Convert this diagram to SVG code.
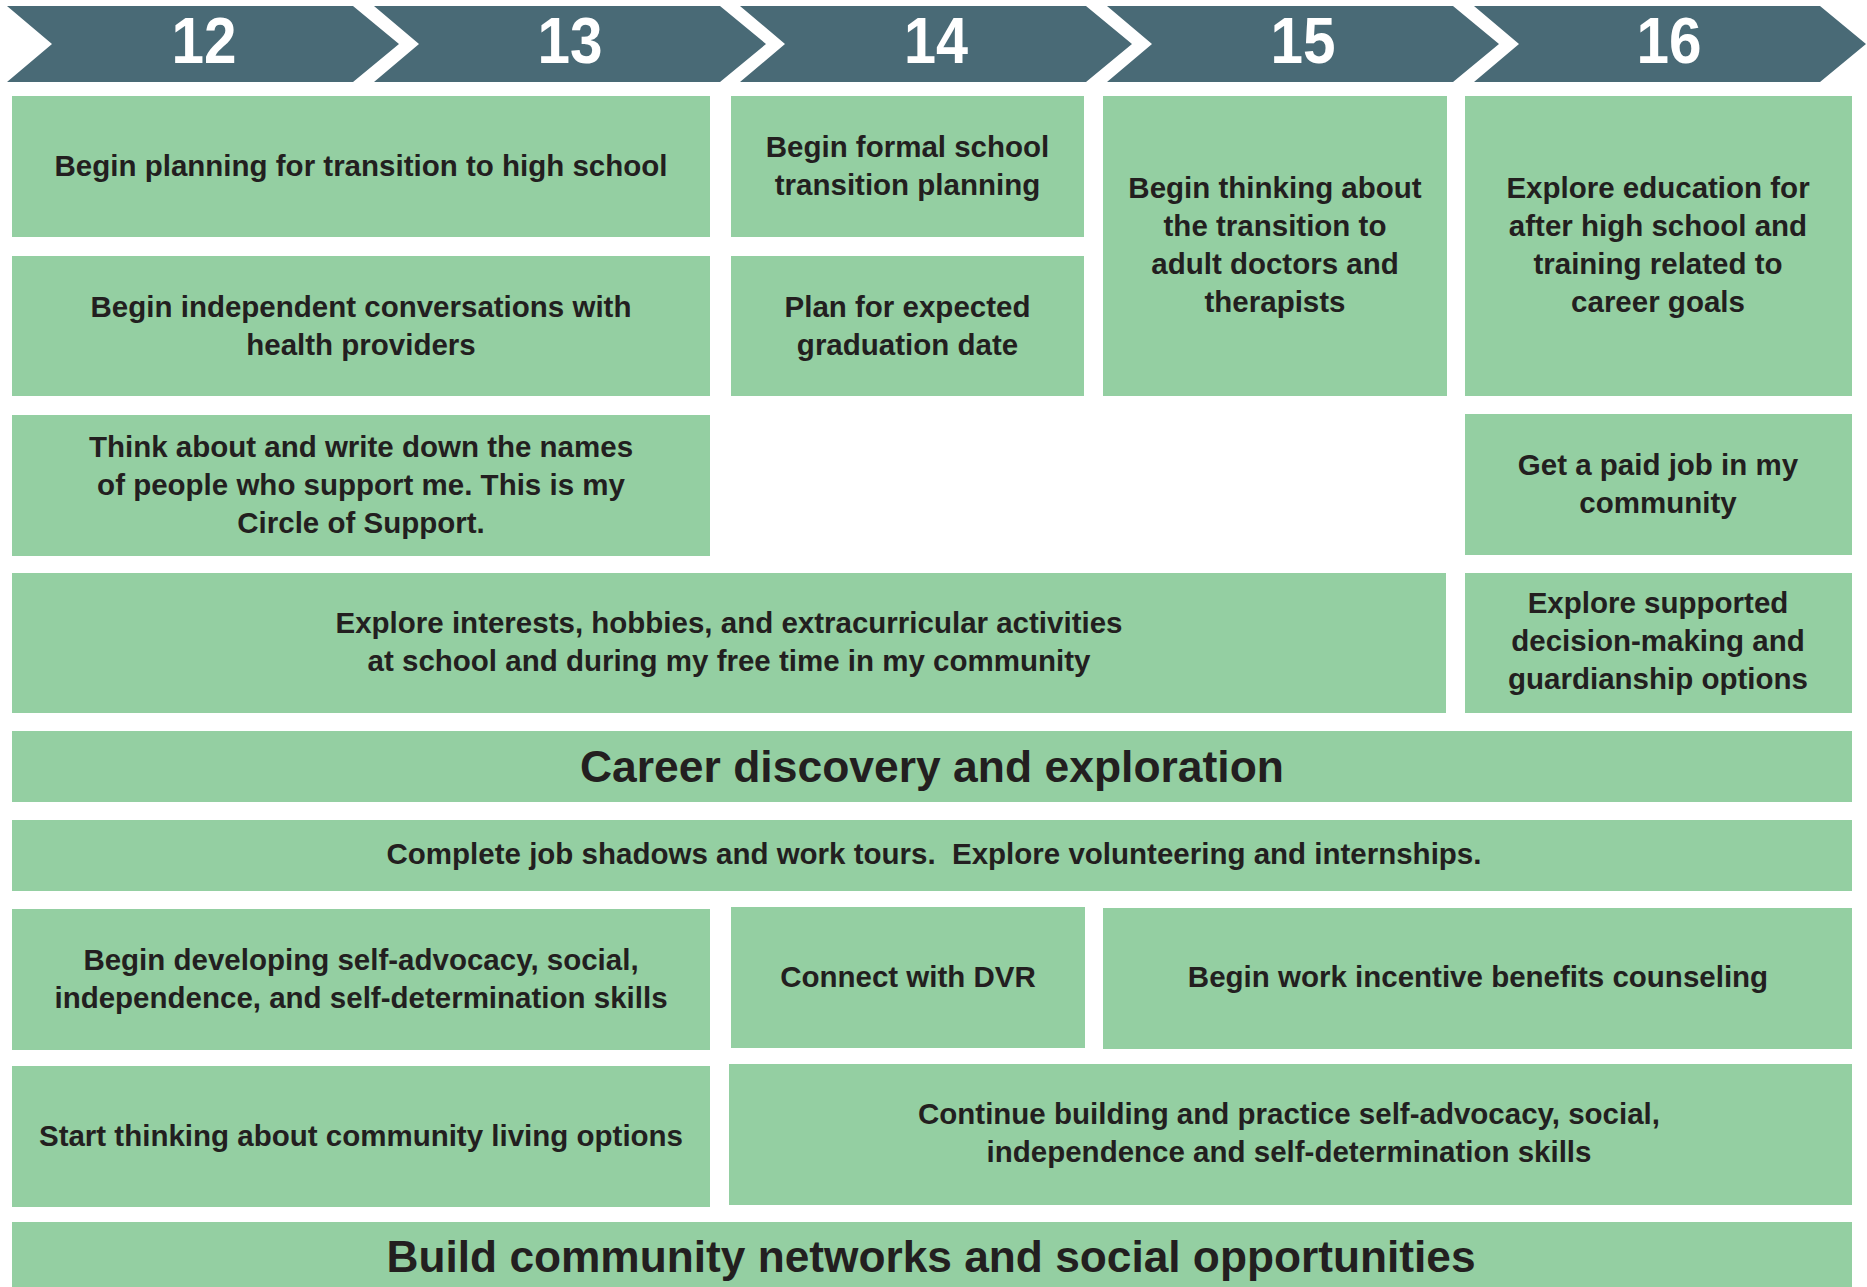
<svg xmlns="http://www.w3.org/2000/svg" width="1867" height="1287" viewBox="0 0 1867 1287">
<style>
  .chev { fill: #496A76; }
  .num { fill: #FFFFFF; font-family: "Liberation Sans", Arial, sans-serif; font-weight: bold; font-size: 64px; text-anchor: middle; }
  .box { fill: #94CFA2; }
  .t { fill: #231F20; font-family: "Liberation Sans", Arial, sans-serif; font-weight: bold; font-size: 29.5px; text-anchor: middle; }
  .big { fill: #231F20; font-family: "Liberation Sans", Arial, sans-serif; font-weight: bold; font-size: 45px; text-anchor: middle; }
</style>
<rect width="1867" height="1287" fill="#FFFFFF"/>

<g id="header">
  <g id="age-12">
    <polygon class="chev" points="7,6 353,6 399,44 353,82 7,82 52,44"/>
    <text class="num" x="204" y="63" textLength="65" lengthAdjust="spacingAndGlyphs">12</text>
  </g>
  <g id="age-13">
    <polygon class="chev" points="374,6 720,6 766,44 720,82 374,82 419,44"/>
    <text class="num" x="570" y="63" textLength="65" lengthAdjust="spacingAndGlyphs">13</text>
  </g>
  <g id="age-14">
    <polygon class="chev" points="740,6 1086,6 1132,44 1086,82 740,82 785,44"/>
    <text class="num" x="936" y="63" textLength="64" lengthAdjust="spacingAndGlyphs">14</text>
  </g>
  <g id="age-15">
    <polygon class="chev" points="1107,6 1453,6 1499,44 1453,82 1107,82 1152,44"/>
    <text class="num" x="1303" y="63" textLength="65" lengthAdjust="spacingAndGlyphs">15</text>
  </g>
  <g id="age-16">
    <polygon class="chev" points="1474,6 1820,6 1866,44 1820,82 1474,82 1519,44"/>
    <text class="num" x="1669" y="63" textLength="65" lengthAdjust="spacingAndGlyphs">16</text>
  </g>
</g>

<g id="connectors"></g>

<g id="n-planning-high-school">
  <rect class="box" x="12" y="96" width="698" height="141"/>
  <text class="t" x="361" y="176">Begin planning for transition to high school</text>
</g>
<g id="n-formal-transition">
  <rect class="box" x="731" y="96" width="353" height="141"/>
  <text class="t" x="907.5" y="157">Begin formal school</text>
  <text class="t" x="907.5" y="195">transition planning</text>
</g>
<g id="n-adult-doctors">
  <rect class="box" x="1103" y="96" width="344" height="300"/>
  <text class="t" x="1275" y="198">Begin thinking about</text>
  <text class="t" x="1275" y="236">the transition to</text>
  <text class="t" x="1275" y="274">adult doctors and</text>
  <text class="t" x="1275" y="312">therapists</text>
</g>
<g id="n-explore-education">
  <rect class="box" x="1465" y="96" width="387" height="300"/>
  <text class="t" x="1658" y="198">Explore education for</text>
  <text class="t" x="1658" y="236">after high school and</text>
  <text class="t" x="1658" y="274">training related to</text>
  <text class="t" x="1658" y="312">career goals</text>
</g>
<g id="n-health-providers">
  <rect class="box" x="12" y="256" width="698" height="140"/>
  <text class="t" x="361" y="316.5">Begin independent conversations with</text>
  <text class="t" x="361" y="354.5">health providers</text>
</g>
<g id="n-graduation-date">
  <rect class="box" x="731" y="256" width="353" height="140"/>
  <text class="t" x="907.5" y="316.5">Plan for expected</text>
  <text class="t" x="907.5" y="354.5">graduation date</text>
</g>
<g id="n-circle-of-support">
  <rect class="box" x="12" y="415" width="698" height="141"/>
  <text class="t" x="361" y="457">Think about and write down the names</text>
  <text class="t" x="361" y="495">of people who support me. This is my</text>
  <text class="t" x="361" y="533">Circle of Support.</text>
</g>
<g id="n-paid-job">
  <rect class="box" x="1465" y="414" width="387" height="141"/>
  <text class="t" x="1658" y="475">Get a paid job in my</text>
  <text class="t" x="1658" y="513">community</text>
</g>
<g id="n-interests-hobbies">
  <rect class="box" x="12" y="573" width="1434" height="140"/>
  <text class="t" x="729" y="633">Explore interests, hobbies, and extracurricular activities</text>
  <text class="t" x="729" y="671">at school and during my free time in my community</text>
</g>
<g id="n-supported-decision">
  <rect class="box" x="1465" y="573" width="387" height="140"/>
  <text class="t" x="1658" y="613">Explore supported</text>
  <text class="t" x="1658" y="651">decision-making and</text>
  <text class="t" x="1658" y="689">guardianship options</text>
</g>
<g id="n-career-discovery">
  <rect class="box" x="12" y="731" width="1840" height="71"/>
  <text class="big" x="932" y="782" textLength="704" lengthAdjust="spacingAndGlyphs">Career discovery and exploration</text>
</g>
<g id="n-job-shadows">
  <rect class="box" x="12" y="820" width="1840" height="71"/>
  <text class="t" x="934" y="864" xml:space="preserve">Complete job shadows and work tours.  Explore volunteering and internships.</text>
</g>
<g id="n-self-advocacy">
  <rect class="box" x="12" y="909" width="698" height="141"/>
  <text class="t" x="361" y="970">Begin developing self-advocacy, social,</text>
  <text class="t" x="361" y="1008">independence, and self-determination skills</text>
</g>
<g id="n-dvr">
  <rect class="box" x="731" y="907" width="354" height="141"/>
  <text class="t" x="908" y="987">Connect with DVR</text>
</g>
<g id="n-benefits-counseling">
  <rect class="box" x="1103" y="908" width="749" height="141"/>
  <text class="t" x="1478" y="987">Begin work incentive benefits counseling</text>
</g>
<g id="n-community-living">
  <rect class="box" x="12" y="1066" width="698" height="141"/>
  <text class="t" x="361" y="1146">Start thinking about community living options</text>
</g>
<g id="n-continue-building">
  <rect class="box" x="729" y="1064" width="1123" height="141"/>
  <text class="t" x="1289" y="1124">Continue building and practice self-advocacy, social,</text>
  <text class="t" x="1289" y="1162">independence and self-determination skills</text>
</g>
<g id="n-community-networks">
  <rect class="box" x="12" y="1222" width="1840" height="70"/>
  <text class="big" x="931" y="1272" textLength="1089" lengthAdjust="spacingAndGlyphs">Build community networks and social opportunities</text>
</g>
</svg>
